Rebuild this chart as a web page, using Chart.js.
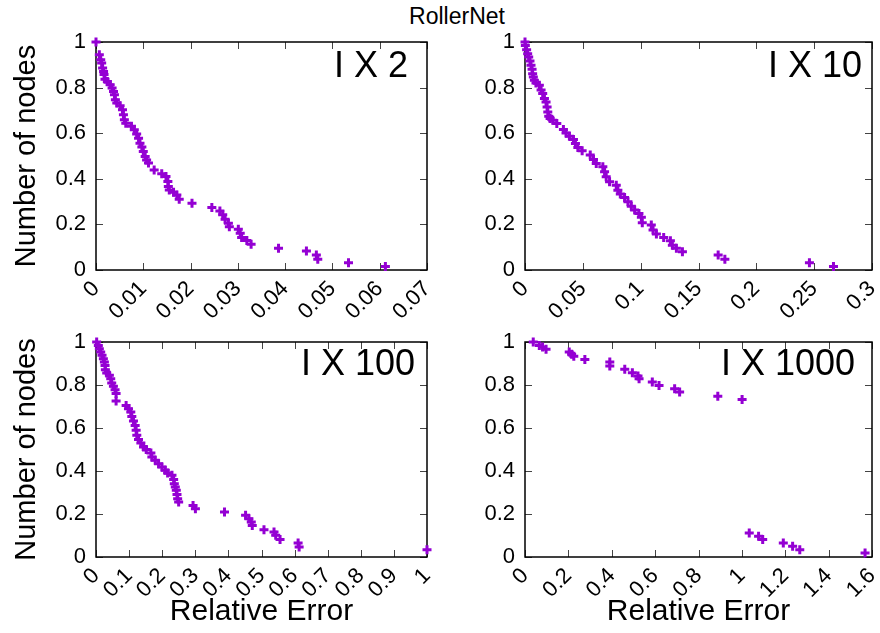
<!DOCTYPE html>
<html>
<head>
<meta charset="utf-8">
<script src="https://cdn.jsdelivr.net/npm/chart.js@4.4.1/dist/chart.umd.min.js"></script>
<style>
  html, body { margin: 0; padding: 0; background: #fff; }
  body { width: 880px; height: 633px; position: relative; overflow: hidden; }
  canvas { position: absolute; }
  #mainTitle { position: absolute; left: 357px; width: 200px; top: 5px; text-align: center;
    font-family: "Liberation Sans", Arial, Helvetica, sans-serif; font-size: 23px; line-height: 23px; color: #000; }
</style>
</head>
<body>
<div id="mainTitle">RollerNet</div>
<canvas id="c1" width="440" height="330" style="left:0px;top:0px"></canvas>
<canvas id="c2" width="440" height="330" style="left:440px;top:0px"></canvas>
<canvas id="c3" width="440" height="333" style="left:0px;top:300px"></canvas>
<canvas id="c4" width="440" height="333" style="left:440px;top:300px"></canvas>
<script>
// ---------------- data ----------------
const panelLabels = ['I X 2', 'I X 10', 'I X 100', 'I X 1000'];
const yAxisTitle = 'Number of nodes';
const xAxisTitle = 'Relative Error';

const yTickLabels = ['0', '0.2', '0.4', '0.6', '0.8', '1'];
const xTickLabels1 = ['0', '0.01', '0.02', '0.03', '0.04', '0.05', '0.06', '0.07'];
const xTickLabels2 = ['0', '0.05', '0.1', '0.15', '0.2', '0.25', '0.3'];
const xTickLabels3 = ['0', '0.1', '0.2', '0.3', '0.4', '0.5', '0.6', '0.7', '0.8', '0.9', '1'];
const xTickLabels4 = ['0', '0.2', '0.4', '0.6', '0.8', '1', '1.2', '1.4', '1.6'];

const ix2Err = [0, 0.0007, 0.0010, 0.0012, 0.0014, 0.0016, 0.0017, 0.0019, 0.0024, 0.0030, 0.0034, 0.0037, 0.0039, 0.0041, 0.0044, 0.0051, 0.0056, 0.0058, 0.0060, 0.0063, 0.0075, 0.0081, 0.0086, 0.0090, 0.0093, 0.0097, 0.0100, 0.0104, 0.0107, 0.0111, 0.0123, 0.0139, 0.0148, 0.0152, 0.0153, 0.0155, 0.0164, 0.0171, 0.0176, 0.0203, 0.0245, 0.0262, 0.0268, 0.0273, 0.0280, 0.0282, 0.0301, 0.0305, 0.0308, 0.0319, 0.0328, 0.0386, 0.0445, 0.0466, 0.0469, 0.0534, 0.0612];
const ix2Nodes = [1.0, 0.944, 0.922, 0.908, 0.886, 0.871, 0.857, 0.837, 0.827, 0.813, 0.798, 0.783, 0.769, 0.747, 0.732, 0.720, 0.703, 0.681, 0.659, 0.644, 0.630, 0.615, 0.597, 0.578, 0.556, 0.539, 0.520, 0.498, 0.483, 0.469, 0.439, 0.422, 0.410, 0.388, 0.366, 0.351, 0.341, 0.329, 0.310, 0.293, 0.274, 0.259, 0.242, 0.223, 0.205, 0.190, 0.179, 0.161, 0.143, 0.129, 0.113, 0.095, 0.083, 0.066, 0.047, 0.032, 0.015];

const ix10Err = [0, 0.0003, 0.0014, 0.0023, 0.0032, 0.0043, 0.0052, 0.0061, 0.0066, 0.0072, 0.0081, 0.0095, 0.0124, 0.0139, 0.0153, 0.0168, 0.0182, 0.0191, 0.0197, 0.0205, 0.0217, 0.0240, 0.0275, 0.0332, 0.0355, 0.0384, 0.0419, 0.0436, 0.0457, 0.0494, 0.0564, 0.0592, 0.0616, 0.0673, 0.0688, 0.0702, 0.0731, 0.0789, 0.0803, 0.0824, 0.0861, 0.0890, 0.0919, 0.0948, 0.0985, 0.1006, 0.1014, 0.1092, 0.1107, 0.1136, 0.1199, 0.1257, 0.1274, 0.1309, 0.1361, 0.1670, 0.1728, 0.2459, 0.2667];
const ix10Nodes = [1.0, 0.985, 0.966, 0.949, 0.934, 0.917, 0.898, 0.880, 0.861, 0.847, 0.832, 0.820, 0.810, 0.790, 0.774, 0.752, 0.737, 0.715, 0.693, 0.674, 0.664, 0.657, 0.642, 0.616, 0.601, 0.587, 0.572, 0.555, 0.537, 0.523, 0.504, 0.485, 0.467, 0.453, 0.431, 0.409, 0.387, 0.372, 0.350, 0.333, 0.318, 0.299, 0.280, 0.263, 0.248, 0.231, 0.207, 0.197, 0.175, 0.158, 0.143, 0.128, 0.109, 0.095, 0.080, 0.066, 0.047, 0.032, 0.015];

const ix100Err = [0.002, 0.0071, 0.0101, 0.0142, 0.0182, 0.0222, 0.0253, 0.0273, 0.0283, 0.0324, 0.0404, 0.0445, 0.0475, 0.0526, 0.0576, 0.0607, 0.0607, 0.091, 0.0981, 0.1051, 0.1082, 0.1132, 0.1183, 0.1213, 0.1233, 0.1284, 0.1355, 0.1436, 0.1517, 0.1658, 0.1688, 0.1789, 0.1891, 0.1992, 0.2093, 0.2164, 0.2295, 0.2346, 0.2366, 0.2396, 0.2426, 0.2447, 0.2467, 0.2497, 0.2932, 0.3003, 0.3882, 0.4519, 0.4620, 0.4691, 0.4721, 0.5075, 0.5378, 0.5429, 0.5560, 0.6106, 0.6137, 1.0];
const ix100Nodes = [1.0, 0.984, 0.969, 0.953, 0.938, 0.922, 0.907, 0.891, 0.871, 0.856, 0.845, 0.829, 0.809, 0.794, 0.778, 0.760, 0.726, 0.705, 0.690, 0.674, 0.654, 0.633, 0.612, 0.589, 0.566, 0.547, 0.530, 0.512, 0.500, 0.484, 0.465, 0.450, 0.434, 0.419, 0.403, 0.391, 0.380, 0.360, 0.341, 0.326, 0.310, 0.291, 0.271, 0.256, 0.240, 0.225, 0.209, 0.194, 0.178, 0.163, 0.147, 0.127, 0.116, 0.101, 0.081, 0.065, 0.047, 0.034];

const ix1000Err = [0.038, 0.066, 0.081, 0.097, 0.204, 0.215, 0.225, 0.276, 0.391, 0.391, 0.460, 0.495, 0.521, 0.526, 0.587, 0.618, 0.690, 0.713, 0.889, 1.001, 1.034, 1.077, 1.096, 1.191, 1.234, 1.267, 1.568];
const ix1000Nodes = [1.0, 0.984, 0.977, 0.966, 0.953, 0.943, 0.934, 0.919, 0.907, 0.888, 0.873, 0.857, 0.842, 0.829, 0.814, 0.798, 0.783, 0.767, 0.748, 0.733, 0.112, 0.096, 0.081, 0.065, 0.050, 0.034, 0.019];

// ---------------- styling / rendering ----------------
const FONT = '"Liberation Sans", Arial, Helvetica, sans-serif';
const MARK = '#9400D3';

const framePlugin = {
  id: 'frame',
  beforeDatasetsDraw(chart) {
    const {ctx, chartArea: a, scales: {x, y}} = chart;
    const L = 7;
    ctx.save();
    ctx.strokeStyle = '#444';
    ctx.lineWidth = 1;
    ctx.beginPath();
    x.ticks.forEach(t => {
      const px = Math.round(x.getPixelForValue(t.value)) + 0.5;
      ctx.moveTo(px, a.bottom); ctx.lineTo(px, a.bottom - L);
      ctx.moveTo(px, a.top); ctx.lineTo(px, a.top + L);
    });
    y.ticks.forEach(t => {
      const py = Math.round(y.getPixelForValue(t.value)) + 0.5;
      ctx.moveTo(a.left, py); ctx.lineTo(a.left + L, py);
      ctx.moveTo(a.right, py); ctx.lineTo(a.right - L, py);
    });
    ctx.stroke();
    ctx.strokeStyle = '#000';
    ctx.lineWidth = 1.5;
    ctx.strokeRect(a.left, a.top, a.right - a.left, a.bottom - a.top);
    ctx.restore();
  },
  afterDraw(chart, args, opts) {
    const {ctx, chartArea: a} = chart;
    ctx.save();
    ctx.fillStyle = '#000';
    ctx.font = '36px ' + FONT;
    ctx.textAlign = 'right';
    ctx.textBaseline = 'alphabetic';
    ctx.fillText(opts.label, a.right - opts.labelRight, a.top + opts.labelBaseline);
    if (opts.yTitle) {
      ctx.font = '29px ' + FONT;
      ctx.translate(opts.yTitleX, (a.top + a.bottom) / 2);
      ctx.rotate(-Math.PI / 2);
      ctx.textAlign = 'center';
      ctx.textBaseline = 'middle';
      ctx.fillText(opts.yTitle, 0, 0);
    }
    ctx.restore();
  }
};

function makeChart(id, errs, nodes, xLabels, cfg) {
  const xVals = xLabels.map(Number);
  const yVals = yTickLabels.map(Number);
  return new Chart(document.getElementById(id), {
    type: 'scatter',
    data: {
      datasets: [{
        data: errs.map((e, i) => ({x: e, y: nodes[i]})),
        pointStyle: 'cross',
        pointRadius: 4.5,
        pointHoverRadius: 4.5,
        pointBorderWidth: 3,
        borderColor: MARK,
        backgroundColor: MARK,
        showLine: false,
        clip: false
      }]
    },
    options: {
      responsive: false,
      animation: false,
      devicePixelRatio: 1,
      events: [],
      layout: {padding: {left: 0, top: 42, right: cfg.padRight, bottom: 0}},
      plugins: {
        legend: {display: false},
        tooltip: {enabled: false},
        frame: {label: cfg.label, labelRight: cfg.labelRight, labelBaseline: cfg.labelBaseline,
                yTitle: cfg.yTitle, yTitleX: 27}
      },
      scales: {
        x: {
          type: 'linear',
          min: xVals[0],
          max: xVals[xVals.length - 1],
          afterBuildTicks: s => { s.ticks = xVals.map(v => ({value: v})); },
          afterFit: s => { s.height = cfg.xHeight; s.paddingLeft = 0; s.paddingRight = 0; s.paddingTop = 0; s.paddingBottom = 0; },
          grid: {display: false, drawTicks: false},
          border: {display: false},
          ticks: {
            autoSkip: false, minRotation: 45, maxRotation: 45,
            padding: 6, labelOffset: 0,
            color: '#000', font: {family: FONT, size: 22},
            callback: (v, i) => xLabels[i]
          },
          title: cfg.xTitle ? {display: true, text: cfg.xTitle, color: '#000',
                  font: {family: FONT, size: 30}, padding: {top: 0, bottom: 3}} : {display: false}
        },
        y: {
          type: 'linear',
          min: 0, max: 1,
          afterBuildTicks: s => { s.ticks = yVals.map(v => ({value: v})); },
          afterFit: s => { s.width = cfg.yWidth; s.paddingTop = 0; s.paddingBottom = 0; },
          grid: {display: false, drawTicks: false},
          border: {display: false},
          ticks: {
            autoSkip: false, padding: 10,
            color: '#000', font: {family: FONT, size: 22},
            callback: (v, i) => yTickLabels[i]
          }
        }
      }
    },
    plugins: [framePlugin]
  });
}

makeChart('c1', ix2Err, ix2Nodes, xTickLabels1,
  {label: panelLabels[0], labelRight: 19, labelBaseline: 35, yTitle: yAxisTitle, yWidth: 96, xHeight: 60, padRight: 13});
makeChart('c2', ix10Err, ix10Nodes, xTickLabels2,
  {label: panelLabels[1], labelRight: 10, labelBaseline: 35, yTitle: '', yWidth: 85, xHeight: 60, padRight: 8});
makeChart('c3', ix100Err, ix100Nodes, xTickLabels3,
  {label: panelLabels[2], labelRight: 12, labelBaseline: 33, yTitle: yAxisTitle, yWidth: 96, xHeight: 76, padRight: 13, xTitle: xAxisTitle});
makeChart('c4', ix1000Err, ix1000Nodes, xTickLabels4,
  {label: panelLabels[3], labelRight: 17, labelBaseline: 33, yTitle: '', yWidth: 85, xHeight: 76, padRight: 8, xTitle: xAxisTitle});
</script>
</body>
</html>
